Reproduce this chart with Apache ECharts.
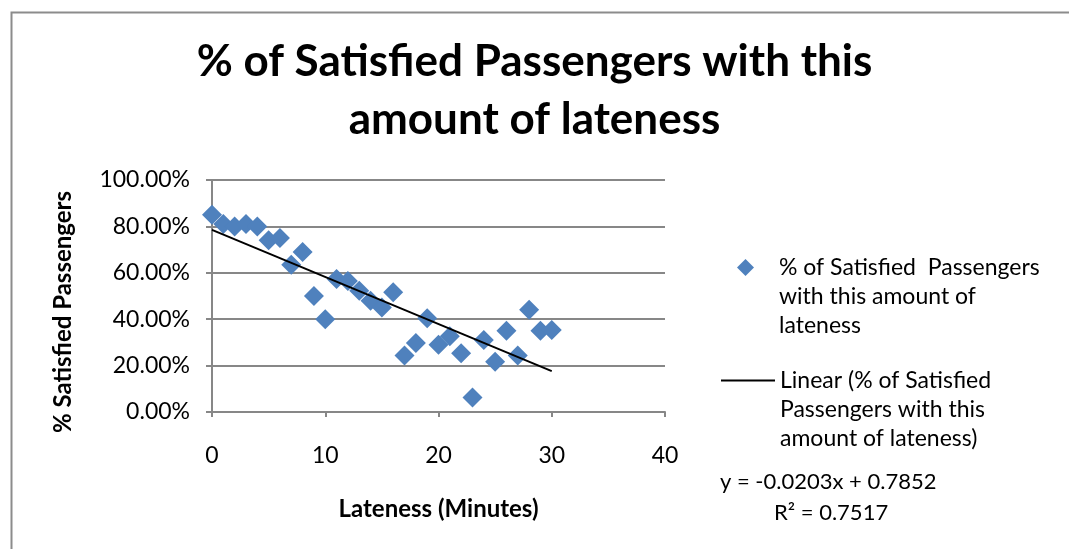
<!DOCTYPE html>
<html>
<head>
<meta charset="utf-8">
<script src="https://cdn.jsdelivr.net/npm/echarts@6/dist/echarts.min.js"></script>
<style>
html,body{margin:0;padding:0;background:#fff;}
#chart{width:1069px;height:549px;}
</style>
</head>
<body>
<div id="chart"></div>
<script>
// Lateness in minutes
const lateness = [0,1,2,3,4,5,6,7,8,9,10,11,12,13,14,15,16,17,18,19,20,21,22,23,24,25,26,27,28,29,30];
// % of satisfied passengers (fraction)
const satisfied = [0.85,0.81,0.80,0.81,0.80,0.74,0.75,0.635,0.69,0.50,0.40,0.573,0.565,0.523,0.48,0.45,0.516,0.243,0.297,0.404,0.29,0.326,0.253,0.063,0.31,0.217,0.35,0.243,0.441,0.35,0.353];
// Linear trendline as reported by the chart
const trendSlope = -0.0203;
const trendIntercept = 0.7852;
const trendR2 = 0.7517;
const trendRange = [0, 30];
const xTicks = [0, 10, 20, 30, 40];
const yTicks = [0, 0.2, 0.4, 0.6, 0.8, 1.0];
const legendLines1 = ['% of Satisfied  Passengers', 'with this amount of', 'lateness'];
const legendLines2 = ['Linear (% of Satisfied', 'Passengers with this', 'amount of lateness)'];

const seriesName = '% of Satisfied Passengers with this amount of lateness';
const trendName = 'Linear (% of Satisfied Passengers with this amount of lateness)';

const FONT = 'Lato, "Open Sans", sans-serif';
const GRID_COLOR = '#878787';

const scatterData = lateness.map((x, i) => [x, satisfied[i]]);
const trendData = trendRange.map(x => [x, trendIntercept + trendSlope * x]);

const LH = 29;
const LFS = 23;
// spacer line so the icon lines up with the first text line
const legendText = lines => '{sp| }\n' + lines.map(l => '{a|' + l + '}').join('\n');
const richFor = padLeft => ({
  sp: {lineHeight: 2 * LH, fontSize: 1},
  a: {fontFamily: FONT, fontSize: LFS, lineHeight: LH, color: '#000', padding: [0, 0, 0, padLeft]}
});

const chart = echarts.init(document.getElementById('chart'));
chart.setOption({
  backgroundColor: '#fff',
  animation: false,
  title: {
    text: '% of Satisfied Passengers with this\namount of lateness',
    left: 'center',
    top: 28,
    textStyle: {fontFamily: FONT, fontWeight: 'bold', fontSize: 44, lineHeight: 58, color: '#000'}
  },
  grid: {left: 212, right: 404, top: 180, bottom: 137},
  xAxis: {
    type: 'value', min: xTicks[0], max: xTicks[xTicks.length-1], interval: 10,
    name: 'Lateness (Minutes)', nameLocation: 'middle', nameGap: 85,
    nameTextStyle: {fontFamily: FONT, fontWeight: 'bold', fontSize: 24, color: '#000'},
    axisLine: {show: true, lineStyle: {color: GRID_COLOR, width: 2}},
    axisTick: {show: true, length: 5, lineStyle: {color: GRID_COLOR, width: 2}},
    axisLabel: {margin: 32, fontFamily: FONT, fontSize: 23, color: '#000'},
    splitLine: {show: false}
  },
  yAxis: {
    type: 'value', min: yTicks[0], max: yTicks[yTicks.length-1], interval: 0.2,
    name: '% Satisfied Passengers', nameLocation: 'middle', nameGap: 137,
    nameTextStyle: {fontFamily: FONT, fontWeight: 'bold', fontSize: 24, color: '#000', padding: [0, 32, 0, 0]},
    axisLine: {show: true, lineStyle: {color: GRID_COLOR, width: 2}},
    axisTick: {show: true, length: 6, lineStyle: {color: GRID_COLOR, width: 2}},
    axisLabel: {margin: 22, fontFamily: FONT, fontSize: 23, color: '#000',
      formatter: v => (v * 100).toFixed(2) + '%'},
    splitLine: {show: true, lineStyle: {color: GRID_COLOR, width: 2}}
  },
  legend: [
    {
      data: [seriesName], left: 737, top: 267 - 1.5 * LH, padding: 0,
      itemWidth: 17, itemHeight: 17,
      formatter: () => legendText(legendLines1),
      textStyle: {rich: richFor(20)}
    },
    {
      data: [trendName], left: 720, top: 380 - 1.5 * LH, padding: 0,
      itemWidth: 54, itemHeight: 17,
      itemStyle: {opacity: 0},
      formatter: () => legendText(legendLines2),
      textStyle: {rich: richFor(0)}
    }
  ],
  graphic: [
    {type: 'rect', left: 9, top: 10, shape: {width: 1200, height: 700}, silent: true,
      style: {fill: 'none', stroke: '#8c8c8c', lineWidth: 2}},
    {type: 'text', left: 720, top: 471,
      style: {text: 'y = ' + trendSlope.toFixed(4) + 'x + ' + trendIntercept.toFixed(4),
        font: '22px ' + FONT, fill: '#000'}},
    {type: 'text', left: 774, top: 502,
      style: {text: 'R² = ' + trendR2.toFixed(4), font: '22px ' + FONT, fill: '#000'}}
  ],
  series: [
    {
      name: seriesName, type: 'scatter', data: scatterData,
      symbol: 'diamond', symbolSize: 20,
      itemStyle: {color: '#4F81BD', opacity: 1}, z: 2
    },
    {
      name: trendName, type: 'line', data: trendData,
      symbol: 'none', showSymbol: false,
      lineStyle: {color: '#000', width: 2}, itemStyle: {color: '#000'}, z: 3
    }
  ]
});
</script>
</body>
</html>
